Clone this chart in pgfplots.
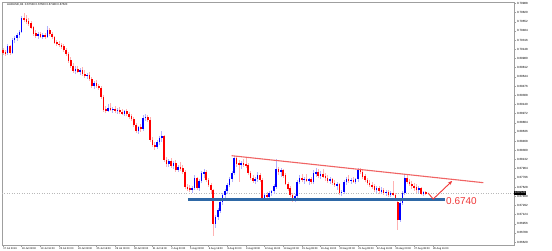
\documentclass[border=0pt]{standalone}
\usepackage{pgfplots}
\pgfplotsset{compat=1.18}
\usepackage{pgfplotstable}
\usetikzlibrary{arrows.meta}
\usepackage{fontspec}
\setmainfont{Liberation Sans}
\definecolor{bull}{RGB}{0,0,255}
\definecolor{bear}{RGB}{255,0,0}
\definecolor{support}{RGB}{46,104,166}
\definecolor{trend}{RGB}{240,100,100}
\definecolor{anno}{RGB}{240,55,55}

\pgfplotstableread{
i o h l c
0 0.7013 0.7018 0.7004 0.7009
1 0.7009 0.7014 0.7003 0.7008
2 0.7008 0.7024 0.7005 0.7020
3 0.7020 0.7023 0.7004 0.7008
4 0.7008 0.7036 0.7006 0.7032
5 0.7032 0.7040 0.7027 0.7035
6 0.7035 0.7045 0.7030 0.7041
7 0.7041 0.7050 0.7036 0.7046
8 0.7046 0.7076 0.7044 0.7072
9 0.7072 0.7082 0.7064 0.7070
10 0.7070 0.7078 0.7062 0.7066
11 0.7066 0.7072 0.7058 0.7062
12 0.7062 0.7066 0.7052 0.7055
13 0.7055 0.7058 0.7040 0.7044
14 0.7044 0.7050 0.7036 0.7040
15 0.7040 0.7046 0.7034 0.7042
16 0.7042 0.7046 0.7035 0.7038
17 0.7038 0.7044 0.7033 0.7041
18 0.7041 0.7045 0.7034 0.7037
19 0.7037 0.7058 0.7035 0.7050
20 0.7050 0.7054 0.7040 0.7043
21 0.7043 0.7047 0.7034 0.7037
22 0.7037 0.7040 0.7024 0.7027
23 0.7027 0.7032 0.7021 0.7025
24 0.7025 0.7030 0.7019 0.7023
25 0.7023 0.7027 0.7016 0.7020
26 0.7020 0.7024 0.7010 0.7014
27 0.7014 0.7018 0.7002 0.7006
28 0.7006 0.7010 0.6990 0.6994
29 0.6994 0.7000 0.6980 0.6984
30 0.6984 0.6990 0.6972 0.6976
31 0.6976 0.6984 0.6970 0.6979
32 0.6979 0.6985 0.6971 0.6974
33 0.6974 0.6980 0.6968 0.6976
34 0.6976 0.6982 0.6966 0.6970
35 0.6970 0.6976 0.6962 0.6966
36 0.6966 0.6972 0.6960 0.6968
37 0.6968 0.6974 0.6956 0.6960
38 0.6960 0.6964 0.6944 0.6948
39 0.6948 0.6956 0.6942 0.6952
40 0.6952 0.6958 0.6944 0.6947
41 0.6947 0.6952 0.6940 0.6944
42 0.6944 0.6948 0.6924 0.6928
43 0.6928 0.6932 0.6900 0.6905
44 0.6905 0.6912 0.6898 0.6903
45 0.6903 0.6914 0.6900 0.6908
46 0.6908 0.6916 0.6902 0.6905
47 0.6905 0.6910 0.6898 0.6906
48 0.6906 0.6912 0.6899 0.6902
49 0.6902 0.6908 0.6896 0.6904
50 0.6904 0.6910 0.6897 0.6900
51 0.6900 0.6906 0.6894 0.6897
52 0.6897 0.6904 0.6892 0.6901
53 0.6901 0.6905 0.6893 0.6896
54 0.6896 0.6900 0.6888 0.6892
55 0.6892 0.6896 0.6884 0.6887
56 0.6887 0.6890 0.6872 0.6876
57 0.6876 0.6880 0.6862 0.6866
58 0.6866 0.6875 0.6860 0.6872
59 0.6872 0.6878 0.6864 0.6870
60 0.6870 0.6894 0.6866 0.6889
61 0.6889 0.6896 0.6884 0.6891
62 0.6891 0.6895 0.6882 0.6886
63 0.6886 0.6890 0.6846 0.6849
64 0.6849 0.6854 0.6836 0.6840
65 0.6840 0.6846 0.6830 0.6836
66 0.6836 0.6848 0.6832 0.6845
67 0.6845 0.6856 0.6840 0.6852
68 0.6852 0.6866 0.6846 0.6855
69 0.6855 0.6858 0.6808 0.6812
70 0.6812 0.6818 0.6800 0.6806
71 0.6806 0.6815 0.6800 0.6811
72 0.6811 0.6816 0.6798 0.6802
73 0.6802 0.6810 0.6795 0.6806
74 0.6806 0.6812 0.6790 0.6795
75 0.6795 0.6804 0.6790 0.6800
76 0.6800 0.6808 0.6792 0.6797
77 0.6797 0.6804 0.6786 0.6790
78 0.6790 0.6794 0.6760 0.6763
79 0.6763 0.6768 0.6755 0.6760
80 0.6760 0.6766 0.6754 0.6758
81 0.6758 0.6764 0.6752 0.6761
82 0.6761 0.6784 0.6757 0.6779
83 0.6779 0.6782 0.6758 0.6761
84 0.6761 0.6778 0.6756 0.6774
85 0.6774 0.6792 0.6770 0.6788
86 0.6788 0.6796 0.6780 0.6790
87 0.6790 0.6794 0.6772 0.6776
88 0.6776 0.6780 0.6762 0.6766
89 0.6766 0.6770 0.6752 0.6757
90 0.6757 0.6760 0.6673 0.6695
91 0.6695 0.6712 0.6688 0.6708
92 0.6708 0.6724 0.6702 0.6720
93 0.6720 0.6740 0.6715 0.6736
94 0.6736 0.6752 0.6730 0.6748
95 0.6748 0.6760 0.6742 0.6756
96 0.6756 0.6770 0.6750 0.6766
97 0.6766 0.6782 0.6762 0.6778
98 0.6778 0.6792 0.6772 0.6788
99 0.6788 0.6820 0.6785 0.6816
100 0.6816 0.6819 0.6800 0.6806
101 0.6806 0.6812 0.6772 0.6803
102 0.6803 0.6810 0.6796 0.6807
103 0.6807 0.6814 0.6800 0.6804
104 0.6804 0.6815 0.6798 0.6802
105 0.6802 0.6806 0.6784 0.6788
106 0.6788 0.6792 0.6775 0.6779
107 0.6779 0.6784 0.6770 0.6774
108 0.6774 0.6782 0.6768 0.6778
109 0.6778 0.6790 0.6772 0.6785
110 0.6785 0.6788 0.6772 0.6776
111 0.6776 0.6779 0.6739 0.6742
112 0.6742 0.6752 0.6738 0.6748
113 0.6748 0.6754 0.6740 0.6745
114 0.6745 0.6756 0.6742 0.6752
115 0.6752 0.6758 0.6746 0.6755
116 0.6755 0.6768 0.6750 0.6764
117 0.6764 0.6814 0.6760 0.6796
118 0.6796 0.6800 0.6784 0.6790
119 0.6790 0.6798 0.6782 0.6793
120 0.6793 0.6796 0.6780 0.6784
121 0.6784 0.6788 0.6766 0.6768
122 0.6768 0.6772 0.6755 0.6760
123 0.6760 0.6764 0.6744 0.6748
124 0.6748 0.6752 0.6735 0.6741
125 0.6741 0.6750 0.6736 0.6746
126 0.6746 0.6776 0.6742 0.6772
127 0.6772 0.6784 0.6768 0.6779
128 0.6779 0.6786 0.6772 0.6776
129 0.6776 0.6782 0.6768 0.6778
130 0.6778 0.6786 0.6772 0.6774
131 0.6774 0.6780 0.6766 0.6777
132 0.6777 0.6782 0.6768 0.6772
133 0.6772 0.6794 0.6768 0.6788
134 0.6788 0.6798 0.6782 0.6790
135 0.6790 0.6796 0.6780 0.6784
136 0.6784 0.6792 0.6778 0.6787
137 0.6787 0.6796 0.6780 0.6782
138 0.6782 0.6788 0.6774 0.6779
139 0.6779 0.6784 0.6770 0.6774
140 0.6774 0.6782 0.6768 0.6777
141 0.6777 0.6780 0.6766 0.6770
142 0.6770 0.6776 0.6762 0.6766
143 0.6766 0.6772 0.6758 0.6768
144 0.6768 0.6771 0.6748 0.6752
145 0.6752 0.6758 0.6746 0.6754
146 0.6754 0.6776 0.6750 0.6772
147 0.6772 0.6782 0.6766 0.6778
148 0.6778 0.6784 0.6770 0.6774
149 0.6774 0.6780 0.6768 0.6776
150 0.6776 0.6782 0.6770 0.6773
151 0.6773 0.6780 0.6768 0.6777
152 0.6777 0.6798 0.6772 0.6794
153 0.6794 0.6798 0.6786 0.6790
154 0.6790 0.6794 0.6778 0.6782
155 0.6782 0.6786 0.6772 0.6776
156 0.6776 0.6780 0.6766 0.6770
157 0.6770 0.6775 0.6762 0.6766
158 0.6766 0.6772 0.6760 0.6764
159 0.6764 0.6768 0.6754 0.6758
160 0.6758 0.6764 0.6752 0.6760
161 0.6760 0.6764 0.6750 0.6755
162 0.6755 0.6762 0.6750 0.6758
163 0.6758 0.6762 0.6748 0.6752
164 0.6752 0.6758 0.6746 0.6754
165 0.6754 0.6758 0.6744 0.6749
166 0.6749 0.6756 0.6744 0.6752
167 0.6752 0.6774 0.6746 0.6748
168 0.6748 0.6752 0.6740 0.6744
169 0.6735 0.6740 0.6684 0.6702
170 0.6702 0.6738 0.6698 0.6734
171 0.6734 0.6756 0.6730 0.6752
172 0.6752 0.6785 0.6748 0.6779
173 0.6779 0.6784 0.6768 0.6772
174 0.6772 0.6778 0.6764 0.6768
175 0.6768 0.6774 0.6760 0.6765
176 0.6765 0.6770 0.6756 0.6762
177 0.6762 0.6768 0.6752 0.6757
178 0.6757 0.6764 0.6752 0.6760
179 0.6760 0.6763 0.6748 0.6750
180 0.6750 0.6756 0.6746 0.6753
181 0.6753 0.6756 0.6748 0.6752
}\candles

\pgfplotsset{candle/.style={only marks, mark=*, mark size=0pt,
  mark options={draw opacity=0, fill opacity=0}, forget plot}}

\begin{document}
\begin{tikzpicture}[x=1bp,y=1bp]
\useasboundingbox (-2,-5) rectangle (550,245);
\fill[white] (-2,-5) rectangle (550,245);
\begin{axis}[
  at={(0,0)}, anchor=south west,
  scale only axis, width=512bp, height=243bp,
  xmin=-0.43, xmax=218.8, ymin=0.66567, ymax=0.71013,
  clip=false,
  axis line style={gray!75, line width=0.6bp},
  /pgf/number format/assume math mode=true,
  tick align=outside, major tick length=2bp,
  tick style={gray!75, line width=0.4bp},
  xtick pos=bottom, ytick pos=right, yticklabel pos=right,
  xtick={0,8,...,184},
  xticklabels={17 Jul 2019,18 Jul 08:00,19 Jul 16:00,23 Jul 00:00,24 Jul 08:00,25 Jul 16:00,29 Jul 00:00,30 Jul 08:00,31 Jul 16:00,2 Aug 00:00,5 Aug 08:00,6 Aug 16:00,8 Aug 00:00,9 Aug 08:00,12 Aug 16:00,14 Aug 00:00,15 Aug 08:00,16 Aug 16:00,20 Aug 00:00,21 Aug 08:00,22 Aug 16:00,26 Aug 00:00,27 Aug 08:00,28 Aug 16:00},
  xticklabel style={font=\fontsize{2.6}{3}\selectfont, anchor=north west, inner sep=0.6bp, xshift=-0.5bp},
  ytick={0.66620,0.66788,...,0.71000},
  yticklabel style={font=\fontsize{3}{3}\selectfont, anchor=west, inner sep=0.8bp,
    /pgf/number format/.cd, fixed, fixed zerofill, precision=5},
]
% current price dotted line
\addplot[gray!55, dotted, line width=0.5bp, forget plot] coordinates {(-0.43,0.6752) (218.8,0.6752)};
% wicks
\addplot[candle,
  restrict expr to domain={\thisrow{c}-\thisrow{o}}{0:1},
  error bars/.cd, y dir=both, y explicit, error mark=none,
  error bar style={line width=0.7bp, blue!30}]
  table[x=i, y expr={(\thisrow{h}+\thisrow{l})/2}, y error expr={(\thisrow{h}-\thisrow{l})/2}] {\candles};
\addplot[candle,
  restrict expr to domain={\thisrow{c}-\thisrow{o}}{-1:-0.00001},
  error bars/.cd, y dir=both, y explicit, error mark=none,
  error bar style={line width=0.7bp, red!30}]
  table[x=i, y expr={(\thisrow{h}+\thisrow{l})/2}, y error expr={(\thisrow{h}-\thisrow{l})/2}] {\candles};
% bodies
\addplot[candle,
  restrict expr to domain={\thisrow{c}-\thisrow{o}}{0:1},
  error bars/.cd, y dir=both, y explicit, error mark=none,
  error bar style={line width=1.6bp, bull}]
  table[x=i, y expr={(\thisrow{o}+\thisrow{c})/2}, y error expr={(\thisrow{c}-\thisrow{o})/2+0.00003}] {\candles};
\addplot[candle,
  restrict expr to domain={\thisrow{c}-\thisrow{o}}{-1:-0.00001},
  error bars/.cd, y dir=both, y explicit, error mark=none,
  error bar style={line width=1.6bp, bear}]
  table[x=i, y expr={(\thisrow{o}+\thisrow{c})/2}, y error expr={(\thisrow{o}-\thisrow{c})/2+0.00003}] {\candles};
% support line
\addplot[support, line width=2.4bp, forget plot] coordinates {(79.2,0.6740) (189.3,0.6740)};
% descending trend line
\addplot[trend, line width=1.1bp, forget plot] coordinates {(97.9,0.68201) (205.7,0.67707)};
% projected path arrow
\addplot[anno, line width=0.9bp, -{Stealth[length=4bp,width=3.5bp]}, forget plot] coordinates {(182.0,0.67518) (184.2,0.67408) (192.3,0.67738)};
% annotation label
\node[anchor=west, inner sep=0pt, text=anno, font=\fontsize{10}{10}\selectfont] at (axis cs:189.7,0.67372) {0.6740};
% current price box
\node[anchor=west, fill=black, text=white, inner sep=0.6bp, font=\fontsize{3}{3}\selectfont] at (axis cs:218.8,0.6752) {0.67520};
% title
\node[anchor=north west, inner sep=0pt, font=\fontsize{2.8}{3}\selectfont] at (rel axis cs:0,1) [xshift=5bp, yshift=-1.5bp] {AUDUSD,H4\ \ 0.67530 0.67560 0.67480 0.67520};
\end{axis}
\end{tikzpicture}
\end{document}
